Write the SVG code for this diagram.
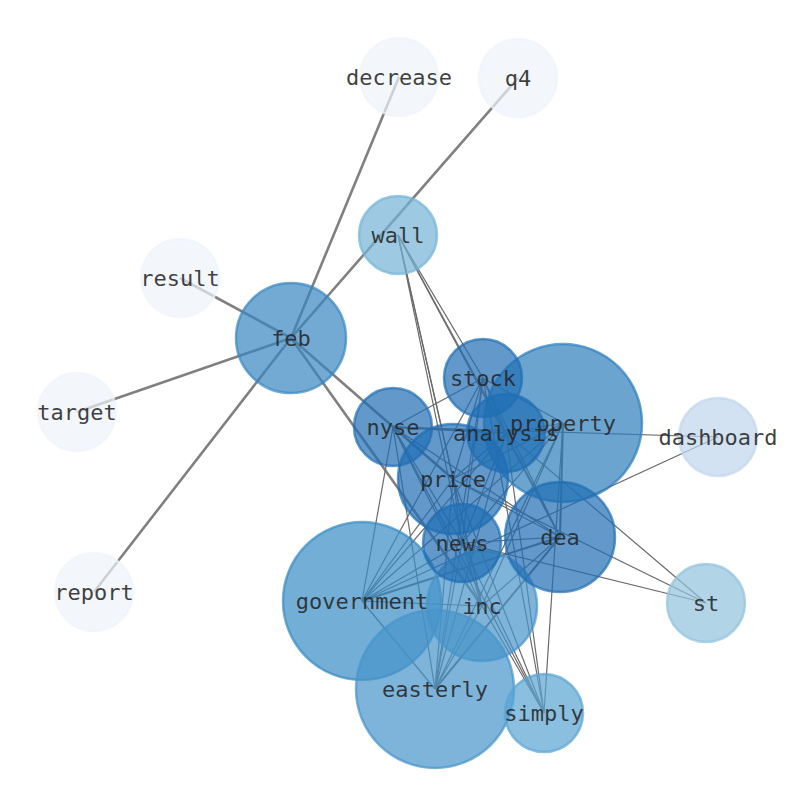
<svg xmlns="http://www.w3.org/2000/svg" width="794" height="790" viewBox="0 0 794 790">
<style>
.e{stroke:#6a6a6a;stroke-width:1.2;fill:none}
.ew{stroke:#6a6a6a;stroke-width:2;fill:none}
.et{stroke:#808080;stroke-width:2.6;fill:none}
circle{fill-opacity:0.7;stroke-opacity:0.7;stroke-width:2.5}
text{font-family:"DejaVu Sans Mono","Liberation Mono",monospace;font-size:22px;fill:#262626;fill-opacity:0.88;text-anchor:middle;dominant-baseline:central}
.c0{fill:#eef4fb;stroke:#eef4fb}
.c1{fill:#bfd6ec;stroke:#bfd6ec}
.c2{fill:#90c2dd;stroke:#90c2dd}
.c3{fill:#74b3d6;stroke:#74b3d6}
.c4{fill:#59a4d3;stroke:#59a4d3}
.c5{fill:#4794ca;stroke:#4794ca}
.c6{fill:#388bc4;stroke:#388bc4}
.c7{fill:#3886c0;stroke:#3886c0}
.c8{fill:#2d7dbc;stroke:#2d7dbc}
.c9{fill:#1f6eb3;stroke:#1f6eb3}
</style>
<rect width="794" height="790" fill="#ffffff"/>
<g id="edges">
<line class="et" x1="291" y1="338" x2="399" y2="77"/>
<line class="et" x1="291" y1="338" x2="518" y2="78"/>
<line class="et" x1="291" y1="338" x2="180" y2="278"/>
<line class="et" x1="291" y1="338" x2="77" y2="412"/>
<line class="et" x1="291" y1="338" x2="94" y2="592"/>
<line class="et" x1="291" y1="338" x2="453" y2="479"/>
<line class="et" x1="291" y1="338" x2="482" y2="606"/>
<line class="e" x1="398" y1="235" x2="483" y2="378"/>
<line class="e" x1="398" y1="235" x2="506" y2="433"/>
<line class="e" x1="398" y1="235" x2="560" y2="537"/>
<line class="e" x1="398" y1="235" x2="453" y2="479"/>
<line class="e" x1="398" y1="235" x2="462" y2="543"/>
<line class="e" x1="398" y1="235" x2="482" y2="606"/>
<line class="e" x1="393" y1="427" x2="483" y2="378"/>
<line class="ew" x1="393" y1="427" x2="506" y2="433"/>
<line class="e" x1="393" y1="427" x2="718" y2="437"/>
<line class="e" x1="393" y1="427" x2="453" y2="479"/>
<line class="e" x1="393" y1="427" x2="462" y2="543"/>
<line class="e" x1="393" y1="427" x2="560" y2="537"/>
<line class="e" x1="393" y1="427" x2="362" y2="601"/>
<line class="e" x1="393" y1="427" x2="435" y2="689"/>
<line class="e" x1="393" y1="427" x2="482" y2="606"/>
<line class="e" x1="393" y1="427" x2="544" y2="713"/>
<line class="e" x1="483" y1="378" x2="506" y2="433"/>
<line class="e" x1="483" y1="378" x2="563" y2="423"/>
<line class="e" x1="483" y1="378" x2="453" y2="479"/>
<line class="e" x1="483" y1="378" x2="462" y2="543"/>
<line class="e" x1="483" y1="378" x2="560" y2="537"/>
<line class="e" x1="483" y1="378" x2="362" y2="601"/>
<line class="e" x1="483" y1="378" x2="435" y2="689"/>
<line class="e" x1="483" y1="378" x2="544" y2="713"/>
<line class="e" x1="506" y1="433" x2="563" y2="423"/>
<line class="e" x1="506" y1="433" x2="453" y2="479"/>
<line class="e" x1="506" y1="433" x2="462" y2="543"/>
<line class="e" x1="506" y1="433" x2="560" y2="537"/>
<line class="e" x1="506" y1="433" x2="706" y2="603"/>
<line class="e" x1="506" y1="433" x2="362" y2="601"/>
<line class="e" x1="506" y1="433" x2="435" y2="689"/>
<line class="e" x1="506" y1="433" x2="544" y2="713"/>
<line class="e" x1="563" y1="423" x2="453" y2="479"/>
<line class="e" x1="563" y1="423" x2="462" y2="543"/>
<line class="ew" x1="563" y1="423" x2="560" y2="537"/>
<line class="e" x1="563" y1="423" x2="362" y2="601"/>
<line class="e" x1="563" y1="423" x2="482" y2="606"/>
<line class="e" x1="563" y1="423" x2="544" y2="713"/>
<line class="e" x1="563" y1="423" x2="435" y2="689"/>
<line class="e" x1="453" y1="479" x2="462" y2="543"/>
<line class="e" x1="453" y1="479" x2="560" y2="537"/>
<line class="e" x1="453" y1="479" x2="706" y2="603"/>
<line class="e" x1="453" y1="479" x2="362" y2="601"/>
<line class="e" x1="453" y1="479" x2="482" y2="606"/>
<line class="e" x1="453" y1="479" x2="435" y2="689"/>
<line class="e" x1="453" y1="479" x2="544" y2="713"/>
<line class="e" x1="462" y1="543" x2="560" y2="537"/>
<line class="e" x1="462" y1="543" x2="706" y2="603"/>
<line class="e" x1="462" y1="543" x2="362" y2="601"/>
<line class="e" x1="462" y1="543" x2="482" y2="606"/>
<line class="e" x1="462" y1="543" x2="435" y2="689"/>
<line class="e" x1="462" y1="543" x2="544" y2="713"/>
<line class="ew" x1="560" y1="537" x2="362" y2="601"/>
<line class="e" x1="560" y1="537" x2="482" y2="606"/>
<line class="ew" x1="560" y1="537" x2="435" y2="689"/>
<line class="e" x1="362" y1="601" x2="482" y2="606"/>
<line class="e" x1="362" y1="601" x2="435" y2="689"/>
<line class="e" x1="362" y1="601" x2="718" y2="437"/>
<line class="e" x1="482" y1="606" x2="435" y2="689"/>
<line class="e" x1="482" y1="606" x2="544" y2="713"/>
</g>
<g id="n-decrease"><circle class="c0" cx="399" cy="77" r="39"/><text x="399" y="77">decrease</text></g>
<g id="n-q4"><circle class="c0" cx="518" cy="78" r="39"/><text x="518" y="78">q4</text></g>
<g id="n-result"><circle class="c0" cx="180" cy="278" r="39"/><text x="180" y="278">result</text></g>
<g id="n-target"><circle class="c0" cx="77" cy="412" r="39"/><text x="77" y="412">target</text></g>
<g id="n-report"><circle class="c0" cx="94" cy="592" r="39"/><text x="94" y="592">report</text></g>
<g id="n-wall"><circle class="c3" cx="398" cy="235" r="39"/><text x="398" y="235">wall</text></g>
<g id="n-feb"><circle class="c7" cx="291" cy="338" r="55"/><text x="291" y="338">feb</text></g>
<g id="n-dashboard"><circle class="c1" cx="718" cy="437" r="39"/><text x="718" y="437">dashboard</text></g>
<g id="n-st"><circle class="c2" cx="706" cy="603" r="39"/><text x="706" y="603">st</text></g>
<g id="n-property"><circle class="c8" cx="563" cy="423" r="79"/></g>
<g id="n-stock"><circle class="c9" cx="483" cy="378" r="39"/></g>
<g id="n-nyse"><circle class="c9" cx="393" cy="427" r="39"/></g>
<g id="n-analysis"><circle class="c9" cx="506" cy="433" r="39"/></g>
<g id="n-price"><circle class="c9" cx="453" cy="479" r="55"/></g>
<g id="n-government"><circle class="c6" cx="362" cy="601" r="79"/></g>
<g id="n-easterly"><circle class="c5" cx="435" cy="689" r="79"/></g>
<g id="n-inc"><circle class="c5" cx="482" cy="606" r="55"/></g>
<g id="n-dea"><circle class="c9" cx="560" cy="537" r="55"/></g>
<g id="n-news"><circle class="c9" cx="462" cy="543" r="39"/></g>
<g id="n-simply"><circle class="c4" cx="544" cy="713" r="39"/></g>
<g id="labels">
<text x="483" y="378">stock</text>
<text x="563" y="423">property</text>
<text x="393" y="427">nyse</text>
<text x="506" y="433">analysis</text>
<text x="453" y="479">price</text>
<text x="462" y="543">news</text>
<text x="560" y="537">dea</text>
<text x="362" y="601">government</text>
<text x="482" y="606">inc</text>
<text x="435" y="689">easterly</text>
<text x="544" y="713">simply</text>
</g>
</svg>
